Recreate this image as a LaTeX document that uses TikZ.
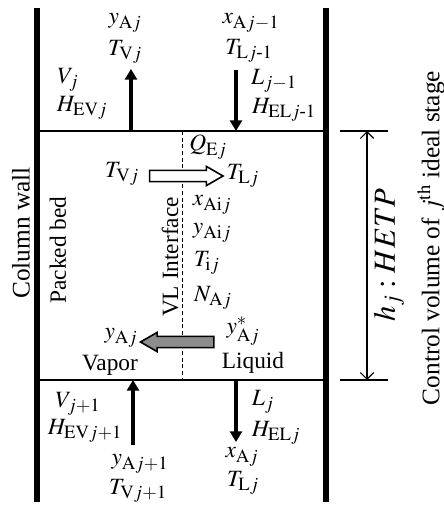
\documentclass[tikz,border=0pt]{standalone}
\usepackage{amsmath}
\usepackage{mathptmx}
\usepackage[no-math]{fontspec}
\setmainfont{Liberation Serif}
\usetikzlibrary{arrows.meta,shapes.arrows}
\DeclareMathSizes{17.5}{17.5}{14}{11}

\tikzset{every picture/.style={line width=0.75pt}}
\tikzset{
  wall/.style={line width=3.8pt},
  plate/.style={line width=1.5pt},
  flow/.style={line width=2.4pt,-{Triangle[length=8pt,width=9pt]}},
  interface/.style={line width=0.75pt,dash pattern=on 3pt off 2pt},
  lbl/.style={font=\fontsize{17.5}{20}\selectfont,inner sep=0pt},
  blockarrow/.style={single arrow,draw,line width=1.2pt,inner sep=3.6pt,
    minimum height=55pt,single arrow head extend=3pt,single arrow tip angle=60},
}

\begin{document}
\begin{tikzpicture}[x=0.75pt,y=0.75pt,yscale=-1,xscale=1]
\useasboundingbox (0,0) rectangle (443,506);

%Column walls
\draw[wall] (37,8) -- (37,502);
\draw[wall] (326,8) -- (326,502);
%Stage boundaries
\draw[plate] (37,131) -- (326,131);
\draw[plate] (37,380) -- (326,380);
%VL interface
\coordinate (iftop) at (182,131);
\coordinate (ifbot) at (182,380);
\draw[interface] (iftop) -- (ifbot);

%Vapor leaving (top)
\coordinate (vout) at (131,131);
\coordinate (vouttip) at (131,69);
\draw[flow] (vout) -- (vouttip);
\node[lbl] (yAj) at (125,23) {$y_{\mathrm{A}j}$};
\node[lbl] (TVj) at (125,52) {$T_{\mathrm{V}j}$};
\node[lbl] (Vj) at (68,80) {$V_j$};
\node[lbl] (HEVj) at (82,108) {$H_{\mathrm{EV}j}$};

%Liquid entering (top)
\coordinate (linstart) at (236,70);
\coordinate (lin) at (236,131);
\draw[flow] (linstart) -- (lin);
\node[lbl] (xAjm) at (251,23) {$x_{\mathrm{A}j-1}$};
\node[lbl] (TLjm) at (249,51) {$T_{\mathrm{L}j\text{-}1}$};
\node[lbl] (Ljm) at (274,81) {$L_{j-1}$};
\node[lbl] (HELjm) at (284,110) {$H_{\mathrm{EL}j\text{-}1}$};

%Vapor entering (bottom)
\coordinate (vinstart) at (133,445);
\coordinate (vin) at (133,380);
\draw[flow] (vinstart) -- (vin);
\node[lbl] (Vjp) at (78,404) {$V_{j+1}$};
\node[lbl] (HEVjp) at (85,431) {$H_{\mathrm{EV}j+1}$};
\node[lbl] (yAjp) at (140,464) {$y_{\mathrm{A}j+1}$};
\node[lbl] (TVjp) at (138,491) {$T_{\mathrm{V}j+1}$};

%Liquid leaving (bottom)
\coordinate (lout) at (236,380);
\coordinate (louttip) at (236,442);
\draw[flow] (lout) -- (louttip);
\node[lbl] (Lj) at (263,402) {$L_j$};
\node[lbl] (HELj) at (276,433) {$H_{\mathrm{EL}j}$};
\node[lbl] (xAj) at (242,457) {$x_{\mathrm{A}j}$};
\node[lbl] (TLj) at (243,483) {$T_{\mathrm{L}j}$};

%Heat transfer
\node[lbl] (QEj) at (208,147) {$Q_{\mathrm{E}j}$};
\node[lbl] (TVjin) at (122,174) {$T_{\mathrm{V}j}$};
\node[lbl] (TLjin) at (243,176) {$T_{\mathrm{L}j}$};
\node[blockarrow,fill=white] (heat) at (181.5,176) {};

%Interface values
\node[lbl] (xAij) at (212,205) {$x_{\mathrm{Ai}j}$};
\node[lbl] (yAij) at (212,233) {$y_{\mathrm{Ai}j}$};
\node[lbl] (Tij) at (207,263) {$T_{\mathrm{i}j}$};
\node[lbl] (NAj) at (213,298) {$N_{\mathrm{A}j}$};

%Mass transfer
\node[lbl] (yAjs) at (243,331) {$y^{*}_{\mathrm{A}j}$};
\node[lbl] (liq) at (253,363) {Liquid};
\node[lbl] (yAjv) at (121,338) {$y_{\mathrm{A}j}$};
\node[lbl] (vap) at (110,365) {Vapor};
\node[blockarrow,fill=gray!90,shape border rotate=180] (mass) at (182,342) {};

%Vertical texts
\node[lbl,rotate=90,font=\fontsize{19}{22}\selectfont] (wall) at (21,233) {Column wall};
\node[lbl,rotate=90] (bed) at (58,250) {Packed bed};
\node[lbl,rotate=90] (vl) at (170,257) {VL Interface};

%Stage height
\draw[line width=1.2pt] (340,131) -- (388,131);
\draw[line width=1.2pt] (340,380) -- (388,380);
\coordinate (htop) at (367,131);
\coordinate (hbot) at (367,380);
\draw[line width=0.9pt,{Straight Barb[length=5pt]}-{Straight Barb[length=5pt]}] (htop) -- (hbot);
\node[lbl,rotate=90,font=\fontsize{23}{26}\selectfont] (hetp) at (389,255) {$h_j:HETP$};
\node[lbl,rotate=90,font=\fontsize{19}{22}\selectfont] (cv) at (431,238) {Control volume of $j^{\mathrm{th}}$ ideal stage};
\end{tikzpicture}
\end{document}
